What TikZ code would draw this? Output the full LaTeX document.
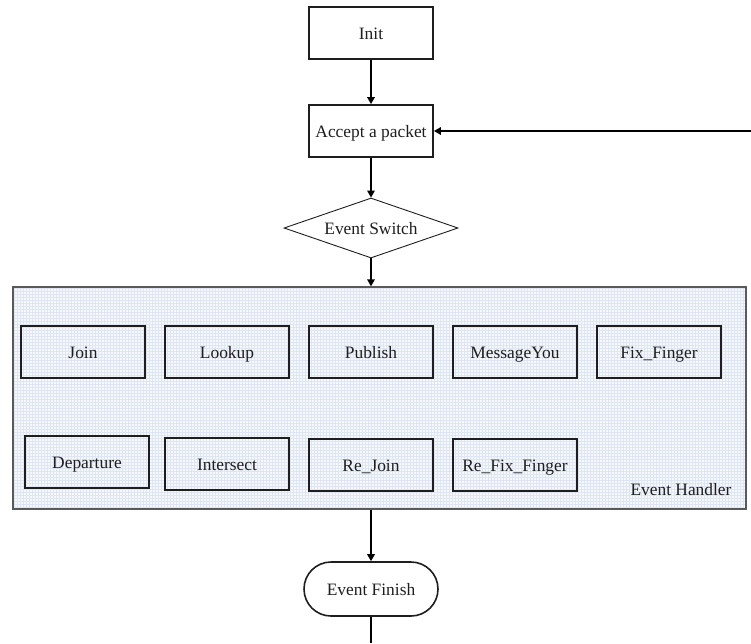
\documentclass[tikz,border=0pt]{standalone}
\usepackage{fontspec}
\setmainfont{Liberation Serif}
\usetikzlibrary{shapes.geometric,arrows.meta}
\definecolor{panelfill}{RGB}{246,248,252}
\definecolor{panelgrid}{RGB}{222,230,244}
\definecolor{panelborder}{RGB}{90,90,90}
\definecolor{ink}{RGB}{30,30,30}
\tikzset{
  every node/.style={font=\fontsize{17.4}{20}\selectfont, text=ink},
  boxtext/.style={text height=13pt, text depth=1pt},
  procbox/.style={boxtext, draw=ink, line width=1.8pt, minimum width=124pt, minimum height=52pt, inner sep=0pt},
  evbox/.style={boxtext, draw=ink, line width=1.8pt, minimum width=124pt, minimum height=52pt, inner sep=0pt},
  decision/.style={boxtext, diamond, draw=ink, line width=0.9pt, minimum width=174pt, minimum height=60pt, inner sep=0pt, aspect=2.9},
  terminal/.style={boxtext, draw=ink, line width=1.6pt, rounded corners=27pt, minimum width=134pt, minimum height=54pt, inner sep=0pt},
  flow/.style={draw=black, line width=1.6pt, -{Triangle[length=7pt,width=7.5pt]}},
  plain/.style={draw=black, line width=1.6pt},
}
\begin{document}
\begin{tikzpicture}[x=1pt,y=-1pt]
\useasboundingbox (0,0) rectangle (751,643);

% Event handler panel with a fine grid fill
\fill[panelfill] (13,287) rectangle (746,509);
\begin{scope}
  \clip (13,287) rectangle (746,509);
  \foreach \gx in {14,17,...,746} {\draw[panelgrid, line width=0.5pt] (\gx,287) -- (\gx,509);}
  \foreach \gy in {288,291,...,509} {\draw[panelgrid, line width=0.5pt] (13,\gy) -- (746,\gy);}
\end{scope}
\node[draw=panelborder, line width=1.3pt, minimum width=733pt, minimum height=222pt, inner sep=0pt] (handler) at (379.5,398) {};
\node[boxtext, anchor=east] (hlabel) at (735,489) {Event Handler};

% Main flow
\node[procbox] (init) at (371,33) {Init};
\node[procbox] (accept) at (371,131) {Accept a packet};
\node[decision] (switch) at (371,228) {Event Switch};
\node[terminal] (finish) at (371,589) {Event Finish};
\coordinate (loopin) at (751,131);
\coordinate (tail) at (371,643);

% Event handlers, first row
\node[evbox] (join) at (83,352) {Join};
\node[evbox] (lookup) at (227,352) {Lookup};
\node[evbox] (publish) at (371,352) {Publish};
\node[evbox] (msgyou) at (515,352) {MessageYou};
\node[evbox] (fixfinger) at (659,352) {Fix\_Finger};

% Event handlers, second row
\node[evbox] (departure) at (87,462) {Departure};
\node[evbox] (intersect) at (227,464) {Intersect};
\node[evbox] (rejoin) at (371,465) {Re\_Join};
\node[evbox] (refix) at (515,465) {Re\_Fix\_Finger};

% Connectors
\draw[flow] (init) -- (accept);
\draw[flow] (accept) -- (switch);
\draw[flow] (switch.south) -- (switch.south |- handler.north);
\draw[flow] (loopin) -- (accept.east);
\draw[flow] (finish.north |- handler.south) -- (finish.north);
\draw[plain] (finish.south) -- (tail);
\end{tikzpicture}
\end{document}
